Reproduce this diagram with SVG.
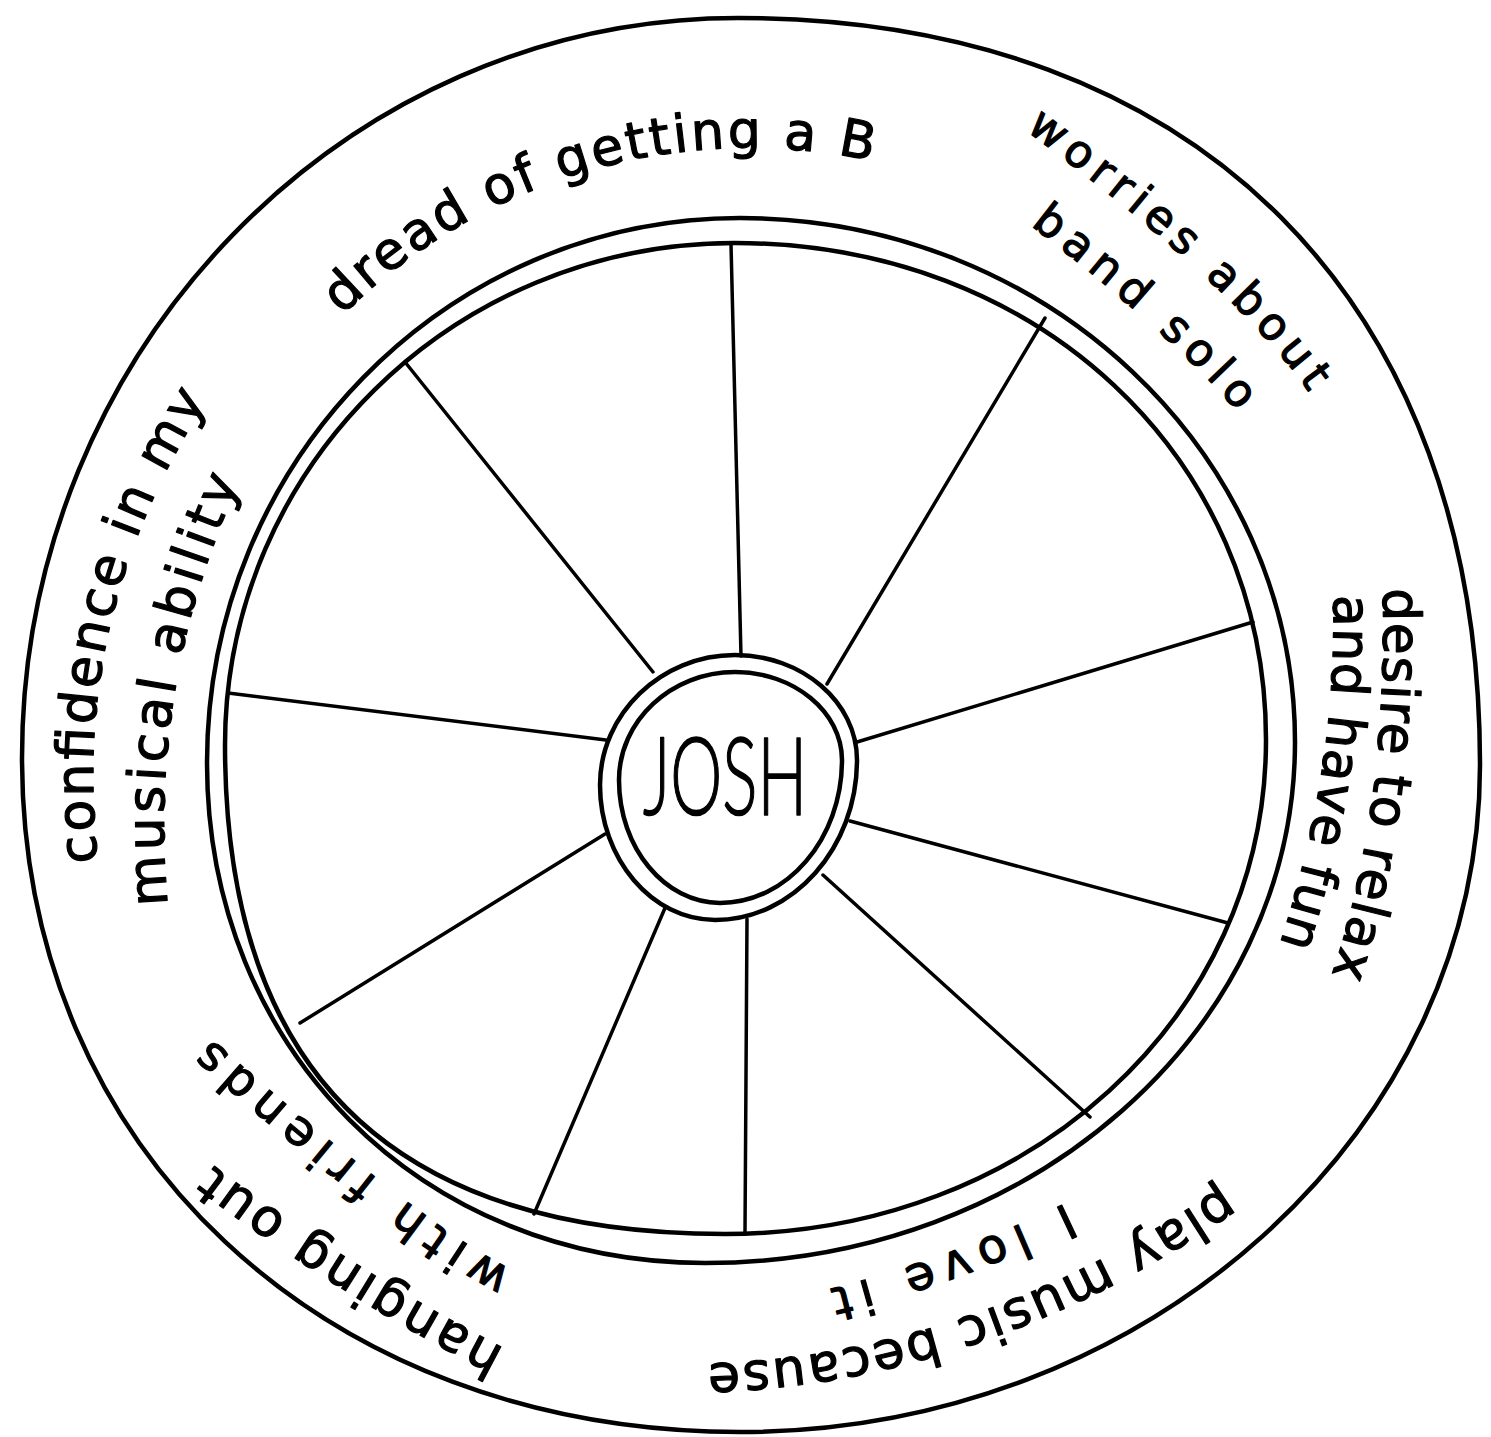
<svg xmlns="http://www.w3.org/2000/svg" width="1491" height="1437" viewBox="0 0 1491 1437">
<style>
.ln{fill:none;stroke:#000;stroke-linecap:round;stroke-linejoin:round}
.ring{stroke-width:4.5}
.spoke{stroke-width:3.5}
.lbl{font-family:"DejaVu Sans","Liberation Sans",sans-serif;font-size:52px;fill:#000;stroke:#000;stroke-width:1.2;stroke-linejoin:round}
.sm{font-size:45px}
.md{font-size:48px}
.name{font-family:"Lato","Liberation Sans Narrow","Liberation Sans",sans-serif;font-weight:300;font-size:108px;fill:#000;stroke:#000;stroke-width:1.6;stroke-linejoin:round}
</style>
<defs>
<path id="p1" d="M342.4,315.3 A580,580 0 0 1 878.5,162.4"/>
<path id="p2a" d="M1025,130 Q1237.5,286.5 1312,397"/>
<path id="p2b" d="M1030,225 Q1172,334 1242,417"/>
<path id="p3a" d="M1383,588 Q1387.5,816 1330,980"/>
<path id="p3b" d="M1333,595 Q1338.5,767.5 1278,950"/>
<path id="p4a" d="M98,862 Q69,608.5 212,393"/>
<path id="p4b" d="M168,905 Q146.5,680 243,475"/>
<path id="p5a" d="M505,1349 Q345,1266 205,1159"/>
<path id="p5b" d="M512,1270 Q419,1224 206,1034"/>
<path id="p6a" d="M1222,1186 Q970,1360 695,1364"/>
<path id="p6b" d="M1066,1203 Q942,1262 826,1290"/>
</defs>
<rect width="1491" height="1437" fill="#fff"/>
<g id="outer-ring">
<path class="ln ring" d="M738,18 C1198,18 1480,302 1480,765 C1480,1132 1147,1432 740,1432 C324,1432 22,1149 22,758 C22,351 344,18 738,18 Z"/>
</g>
<g id="rim">
<path class="ln ring" d="M740,218 C1046,218 1295,453 1295,742 C1295,1030 1031,1263 705,1263 C421,1263 207,1048 207,763 C207,462 446,218 740,218 Z"/>
<path class="ln ring" d="M735,243 C1038,243 1266,457 1266,740 C1266,1017 1028,1234 725,1234 C392,1234 225,1071 225,745 C225,468 453,243 735,243 Z"/>
</g>
<g id="connectors">
<line class="ln spoke" x1="741" y1="656" x2="731" y2="244"/>
<line class="ln spoke" x1="827" y1="684" x2="1045" y2="318"/>
<line class="ln spoke" x1="857" y1="742" x2="1253" y2="622"/>
<line class="ln spoke" x1="850" y1="821" x2="1228" y2="923"/>
<line class="ln spoke" x1="823" y1="875" x2="1090" y2="1117"/>
<line class="ln spoke" x1="747" y1="919" x2="745" y2="1233"/>
<line class="ln spoke" x1="665" y1="908" x2="534" y2="1214"/>
<line class="ln spoke" x1="605" y1="834" x2="300" y2="1023"/>
<line class="ln spoke" x1="606" y1="740" x2="228" y2="693"/>
<line class="ln spoke" x1="653" y1="672" x2="405" y2="362"/>
</g>
<g id="hub">
<path class="ln ring" d="M735,655 C802,655 857,702 857,760 C857,848 793,920 715,920 C652,920 600,859 600,785 C600,714 661,655 735,655 Z" fill="#fff"/>
<path class="ln ring" d="M735,672 C794,672 842,712 842,760 C842,839 787,903 720,903 C665,903 619,848 619,780 C619,721 671,672 735,672 Z"/>
<text class="name" x="643" y="815" textLength="164" lengthAdjust="spacingAndGlyphs">JOSH</text>
</g>
<g id="label-dread">
<text class="lbl"><textPath href="#p1" textLength="575">dread of getting a B</textPath></text>
</g>
<g id="label-worries">
<text class="lbl sm"><textPath href="#p2a" textLength="388">worries about</textPath></text>
<text class="lbl sm"><textPath href="#p2b" textLength="280">band solo</textPath></text>
</g>
<g id="label-desire">
<text class="lbl"><textPath href="#p3a" textLength="392">desire to relax</textPath></text>
<text class="lbl"><textPath href="#p3b" textLength="355">and have fun</textPath></text>
</g>
<g id="label-confidence">
<text class="lbl"><textPath href="#p4a" textLength="484">confidence in my</textPath></text>
<text class="lbl"><textPath href="#p4b" textLength="434">musical ability</textPath></text>
</g>
<g id="label-hanging">
<text class="lbl"><textPath href="#p5a" textLength="345">hanging out</textPath></text>
<text class="lbl md"><textPath href="#p5b" textLength="380">with friends</textPath></text>
</g>
<g id="label-play">
<text class="lbl"><textPath href="#p6a" textLength="552">play music because</textPath></text>
<text class="lbl md"><textPath href="#p6b" textLength="252">I love it</textPath></text>
</g>
</svg>
